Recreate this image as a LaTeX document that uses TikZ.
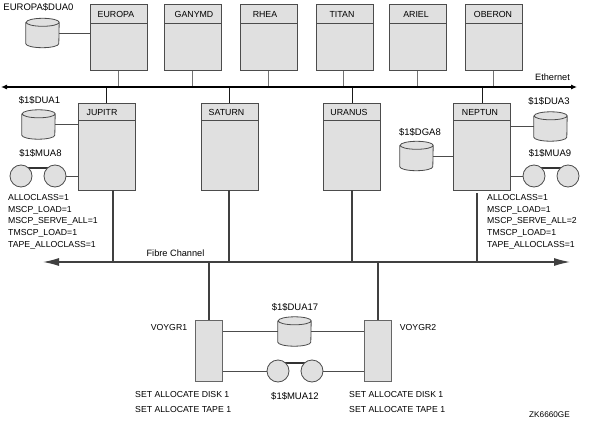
\documentclass[tikz,border=0pt]{standalone}
\usepackage{fontspec}
\setmainfont{Liberation Sans}
\usepackage{tikz}
\usetikzlibrary{arrows.meta,positioning,calc}
\tikzset{
    hostbox/.style={draw=black!70, fill=black!12, line width=0.8pt, minimum width=57pt, inner sep=0pt},
    namebox/.style={draw=black!70, fill=black!12, line width=0.8pt, minimum width=57pt, inner sep=0pt},
    ctrlbox/.style={draw=black!60, fill=black!12, line width=0.8pt, minimum width=27pt, minimum height=61pt, inner sep=0pt},
    diskbox/.style={minimum width=33pt, minimum height=21pt, inner sep=0pt},
    diskline/.style={draw=black!70, fill=black!12, line width=0.8pt},
    reel/.style={circle, draw=black!70, fill=black!12, line width=0.8pt, minimum size=22pt, inner sep=0pt},
    lbl/.style={inner sep=0pt, font=\fontsize{8.7}{10}\selectfont},
    devlbl/.style={inner sep=0pt, font=\fontsize{9.5}{10}\selectfont},
    buslbl/.style={inner sep=0pt, font=\fontsize{9.2}{10}\selectfont},
    hdr/.style={inner sep=0pt, font=\fontsize{8.8}{10}\selectfont},
    link/.style={draw=black!70, line width=0.7pt},
    uplink/.style={draw=black!55, line width=1pt},
    drop/.style={draw=black!75, line width=1.3pt},
    ethbus/.style={draw=black, line width=1.1pt, {Latex[length=6pt,width=5pt]}-{Latex[length=6pt,width=5pt]}},
    fcbus/.style={draw=black!75, line width=1.1pt, {Latex[length=16pt,width=8pt]}-{Latex[length=16pt,width=8pt]}}
}
\begin{document}
\begin{tikzpicture}[x=1pt,y=-1pt]
    \useasboundingbox[fill=white] (0,0) rectangle (591,420);
    % satellites
    \foreach \id/\txt/\xx/\tx/\lx in {europa/EUROPA/119/116/118, ganymd/GANYMD/193/194/192, rhea/RHEA/269/265/268, titan/TITAN/345/342/343, ariel/ARIEL/418/416/417, oberon/OBERON/494/493/493}{
        \node[hostbox, minimum height=66.5pt] (\id) at (\xx,37.5) {};
        \node[namebox, minimum height=19pt] (\id n) at (\xx,14) {};
        \node[hdr] (\id t) at (\tx,14) {\txt};
        \coordinate (\id p) at (\lx,71);
    }
    % big nodes
    \foreach \id/\txt/\xx/\tx in {jupitr/JUPITR/106.5/102, saturn/SATURN/229.5/226.5, uranus/URANUS/352/349, neptun/NEPTUN/482/480}{
        \node[hostbox, minimum height=87pt] (\id) at (\xx,146.5) {};
        \node[namebox, minimum height=17pt] (\id n) at (\xx,111.5) {};
        \node[hdr] (\id t) at (\tx,112.5) {\txt};
    }
    % voyagers
    \node[ctrlbox] (voygra) at (209,350.5) {};
    \node[ctrlbox] (voygrb) at (378,350.5) {};
    \node[lbl] (voygral) at (169,328) {VOYGR1};
    \node[lbl] (voygrbl) at (418,328) {VOYGR2};
    % buses
    \coordinate (etha) at (1,87);
    \coordinate (ethb) at (577,87);
    \coordinate (fca) at (43,262);
    \coordinate (fcb) at (570,262);
    \coordinate (jupitrd) at (113,190);
    \coordinate (saturnd) at (229,190);
    \coordinate (neptund) at (477,193);
    % links
    \foreach \id in {europa,ganymd,rhea,titan,ariel,oberon}
        \draw[uplink] (\id p) -- (\id p |- etha);
    \foreach \id in {jupitr,saturn,uranus,neptun}
        \draw[link, draw=black!90] (\id n.north) -- (\id n.north |- etha);
    \draw[drop] (jupitrd) -- (jupitrd |- fca);
    \draw[drop] (saturnd) -- (saturnd |- fca);
    \draw[drop] (uranus.south) -- (uranus.south |- fca);
    \draw[drop] (neptund) -- (neptund |- fca);
    \draw[drop] (voygra.north) -- (voygra.north |- fca);
    \draw[drop] (voygrb.north) -- (voygrb.north |- fca);
    \draw[ethbus] (etha) -- (ethb);
    \draw[fcbus] (fca) -- (fcb);
    \node[buslbl] (ethl) at (552.5,77) {Ethernet};
    \node[buslbl] (fcl) at (175.5,253) {Fibre Channel};
    % disks
    \foreach \id/\xx/\yy in {duaz/42.5/33, duaa/38.5/124.5, dgae/416.5/156, duac/550.5/126.5, duag/294.5/331.5}{
        \node[diskbox] (\id) at (\xx,\yy) {};
        \draw[diskline] (\id.north west) -- (\id.south west) arc[start angle=180, end angle=360, x radius=16.5pt, y radius=4pt]
            -- (\id.north east) arc[start angle=0, end angle=180, x radius=16.5pt, y radius=4pt] arc[start angle=180, end angle=360, x radius=16.5pt, y radius=4pt];
    }
    \node[devlbl] (duazl) at (38.5,7) {EUROPA\$DUA0};
    \node[devlbl] (duaal) at (39.5,100) {\$1\$DUA1};
    \node[devlbl] (dgael) at (420,132) {\$1\$DGA8};
    \node[devlbl] (duacl) at (549,101) {\$1\$DUA3};
    \node[devlbl] (duagl) at (295,307) {\$1\$DUA17};
    % tapes
    \foreach \id/\xa/\xb/\yy in {muaa/21/55/176, muab/534/568/176, muac/278/312/371}{
        \draw[draw=black!80, line width=1.2pt] (\xa,\yy-8) -- (\xb,\yy-8);
        \node[reel] (\id a) at (\xa,\yy) {};
        \node[reel] (\id b) at (\xb,\yy) {};
    }
    \node[devlbl] (muaal) at (40.5,153) {\$1\$MUA8};
    \node[devlbl] (muabl) at (550,153) {\$1\$MUA9};
    \node[devlbl] (muacl) at (295,396) {\$1\$MUA12};
    % settings
    \node[lbl, align=left, anchor=north west, font=\fontsize{8.7}{11.8}\selectfont] (parma) at (8,194) {ALLOCLASS=1\\MSCP\_LOAD=1\\MSCP\_SERVE\_ALL=1\\TMSCP\_LOAD=1\\TAPE\_ALLOCLASS=1};
    \node[lbl, align=left, anchor=north west, font=\fontsize{8.7}{11.8}\selectfont] (parmb) at (487,194) {ALLOCLASS=1\\MSCP\_LOAD=1\\MSCP\_SERVE\_ALL=2\\TMSCP\_LOAD=1\\TAPE\_ALLOCLASS=1};
    \node[lbl, align=left, anchor=north west, font=\fontsize{8.7}{15}\selectfont] (seta) at (135,391) {SET ALLOCATE DISK 1\\SET ALLOCATE TAPE 1};
    \node[lbl, align=left, anchor=north west, font=\fontsize{8.7}{15}\selectfont] (setb) at (349,391) {SET ALLOCATE DISK 1\\SET ALLOCATE TAPE 1};
    \node[lbl, font=\fontsize{8.2}{10}\selectfont] (zkl) at (549.5,415) {ZK6660GE};
    % side links
    \draw[link] (duaz.east) -- (duaz.east -| europa.west);
    \draw[link] (duaa.east) -- (duaa.east -| jupitr.west);
    \draw[link] (dgae.east) -- (dgae.east -| neptun.west);
    \draw[link] (duac.west) -- (duac.west -| neptun.east);
    \draw[link] (muaab.east) -- (muaab.east -| jupitr.west);
    \draw[link] (muaba.west) -- (muaba.west -| neptun.east);
    \draw[link] (duag.west) -- (duag.west -| voygra.east);
    \draw[link] (duag.east) -- (duag.east -| voygrb.west);
    \draw[link] (muaca.west) -- (muaca.west -| voygra.east);
    \draw[link] (muacb.east) -- (muacb.east -| voygrb.west);
\end{tikzpicture}
\end{document}
